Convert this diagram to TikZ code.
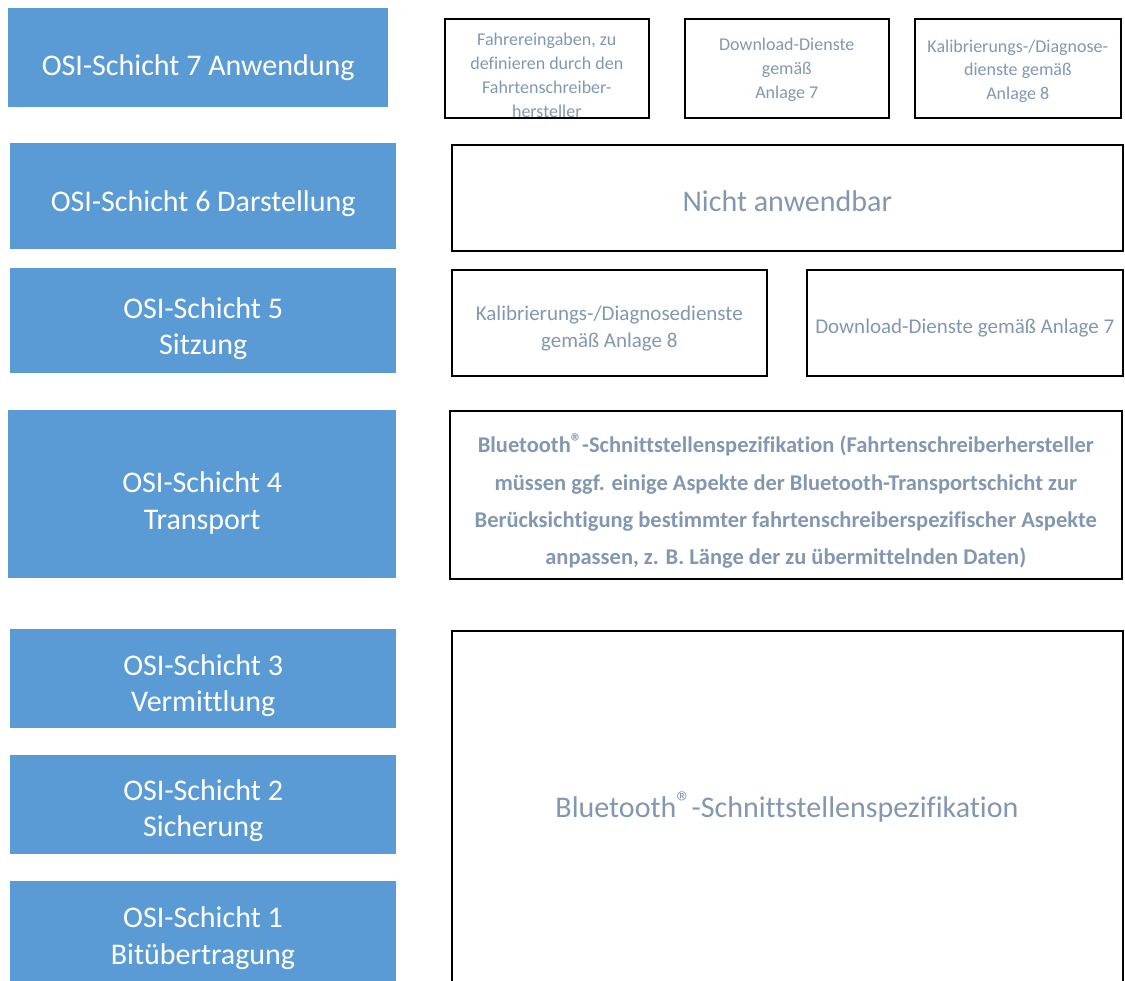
\documentclass[tikz,border=0pt]{standalone}
\usepackage{fontspec}
\setmainfont{Carlito}[Ligatures={NoCommon}]
\usetikzlibrary{calc}
\definecolor{osiblue}{HTML}{5B9BD5}
\definecolor{txtgray}{HTML}{8497B0}
\newcommand{\regm}{\raisebox{0.3ex}{®}}
\tikzset{
  layer/.style={fill=osiblue, draw=none, anchor=north west, inner sep=0pt},
  ltxt/.style={text=white, align=center, inner sep=0pt, font=\fontsize{30}{36.5}\selectfont},
  rbox/.style={draw=black, line width=1.6pt, fill=white, anchor=north west, inner sep=0pt},
  rtxt/.style={text=txtgray, align=center, inner sep=0pt},
}
\begin{document}
\begin{tikzpicture}[x=1pt,y=-1pt]
\useasboundingbox (0,0) rectangle (1125,981);
\clip (0,0) rectangle (1125,981);
\fill[white] (0,0) rectangle (1125,981);
% left layers
\node[layer, minimum width=380pt, minimum height=99pt] (l7) at (8,8) {};
\node[ltxt] (l7t) at ($(l7.center)+(0,10)$) {OSI-Schicht 7 Anwendung};
\node[layer, minimum width=386pt, minimum height=106pt] (l6) at (10,143) {};
\node[ltxt] (l6t) at ($(l6.center)+(0,7)$) {OSI-Schicht 6 Darstellung};
\node[layer, minimum width=386pt, minimum height=105pt] (l5) at (10,268) {};
\node[ltxt] (l5t) at ($(l5.center)+(0,8)$) {OSI-Schicht 5\\Sitzung};
\node[layer, minimum width=388pt, minimum height=168pt] (l4) at (8,410) {};
\node[ltxt] (l4t) at ($(l4.center)+(0,9)$) {OSI-Schicht 4\\Transport};
\node[layer, minimum width=386pt, minimum height=99pt] (l3) at (10,629) {};
\node[ltxt] (l3t) at ($(l3.center)+(0,7)$) {OSI-Schicht 3\\Vermittlung};
\node[layer, minimum width=386pt, minimum height=99pt] (l2) at (10,755) {};
\node[ltxt] (l2t) at ($(l2.center)+(0,6)$) {OSI-Schicht 2\\Sicherung};
\node[layer, minimum width=386pt, minimum height=120pt] (l1) at (10,881) {};
\node[ltxt] (l1t) at (203,938) {OSI-Schicht 1\\Bitübertragung};
% layer 7 boxes
\node[rbox, minimum width=204pt, minimum height=99pt] (a1) at (444,18) {};
\node[rtxt, font=\fontsize{18}{24}\selectfont] (a1t) at ($(a1.center)+(0,7)$) {Fahrereingaben, zu\\definieren durch den\\Fahrtenschreiber-\\hersteller};
\draw[line width=1.6pt] (a1.south west) -- (a1.south east);
\node[rbox, minimum width=204pt, minimum height=99pt] (a2) at (684,18) {};
\node[rtxt, font=\fontsize{18}{24}\selectfont] (a2t) at ($(a2.center)+(0,2)$) {Download-Dienste\\gemäß\\Anlage 7};
\node[rbox, minimum width=206pt, minimum height=99pt] (a3) at (914,18) {};
\node[rtxt, font=\fontsize{18}{23.5}\selectfont] (a3t) at ($(a3.center)+(0,3)$) {Kalibrierungs-/Diagnose-\\dienste gemäß\\Anlage 8};
% layer 6
\node[rbox, minimum width=671pt, minimum height=106pt] (b1) at (451,144) {};
\node[rtxt, font=\fontsize{30}{36}\selectfont] (b1t) at ($(b1.center)+(0,3)$) {Nicht anwendbar};
% layer 5
\node[rbox, minimum width=315pt, minimum height=106pt] (c1) at (451,269) {};
\node[rtxt, font=\fontsize{21}{27}\selectfont] (c1t) at ($(c1.center)+(0,6)$) {Kalibrierungs-/Diagnosedienste\\gemäß Anlage 8};
\node[rbox, minimum width=316pt, minimum height=106pt] (c2) at (806,269) {};
\node[rtxt, font=\fontsize{21}{27}\selectfont] (c2t) at ($(c2.center)+(0,5)$) {Download-Dienste gemäß Anlage 7};
% layer 4
\node[rbox, minimum width=672pt, minimum height=168pt] (d1) at (449,410) {};
\node[rtxt, font=\bfseries\fontsize{22.5}{37.3}\selectfont] (d1t) at ($(d1.center)+(0,6.5)$) {Bluetooth\regm-Schnittstellenspezifikation (Fahrtenschreiberhersteller\\müssen ggf. einige Aspekte der Bluetooth-Transportschicht zur\\Berücksichtigung bestimmter fahrtenschreiberspezifischer Aspekte\\anpassen, z. B. Länge der zu übermittelnden Daten)};
% layers 1-3
\node[rbox, minimum width=671pt, minimum height=360pt] (e1) at (451,630) {};
\node[rtxt, font=\fontsize{30}{36}\selectfont] (e1t) at (787,807) {Bluetooth\regm-Schnittstellenspezifikation};
\end{tikzpicture}
\end{document}
